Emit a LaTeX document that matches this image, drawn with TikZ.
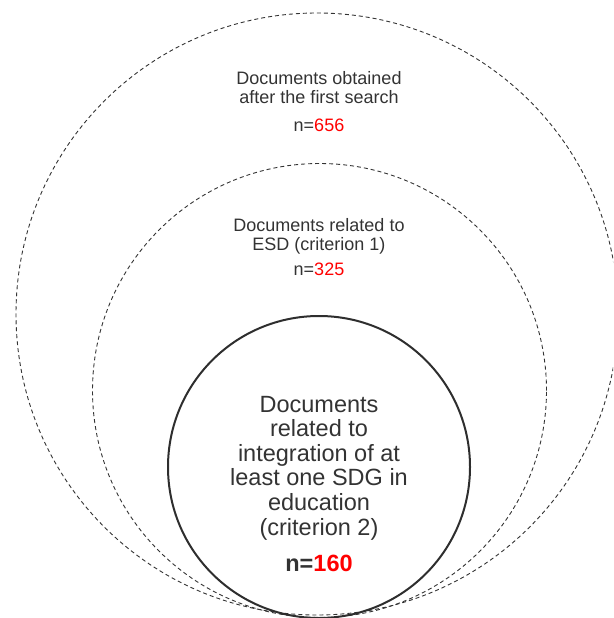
\documentclass[tikz,border=0pt]{standalone}
\usepackage{fontspec}
\setmainfont{Liberation Sans}
\definecolor{ink}{HTML}{333333}
\definecolor{hot}{HTML}{FF0000}
\begin{document}
\begin{tikzpicture}[x=1pt,y=-1pt,
  ring/.style={draw=ink, circle, inner sep=0pt, line width=0.9pt, dash pattern=on 4pt off 3pt},
  core/.style={draw=ink!90!black, circle, inner sep=0pt, line width=2pt},
  small/.style={text=ink, align=center, inner sep=0pt, anchor=base, font=\fontsize{18}{18.8}\selectfont},
  big/.style={text=ink, align=center, inner sep=0pt, anchor=base, font=\fontsize{23.5}{24.6}\selectfont}]
\useasboundingbox (0,0) rectangle (613,618);
\clip (0,0) rectangle (613,618);
\node[ring, minimum size=602pt] (outer) at (317,314) {};
\node[ring, minimum size=454pt] (middle) at (319.5,390.5) {};
\node[core, minimum size=302pt] (inner) at (319,467) {};
\node[small] (t1) at (319,103.5) {Documents obtained\\after the first search};
\node[small] (n1) at (319,131) {n=\textcolor{hot}{656}};
\node[small] (t2) at (319,250.7) {Documents related to\\ESD (criterion 1)};
\node[small] (n2) at (319,275) {n=\textcolor{hot}{325}};
\node[big] (t3) at (319,535) {Documents\\related to\\integration of at\\least one SDG in\\education\\(criterion 2)};
\node[big, font=\fontsize{23.5}{24.6}\selectfont\bfseries] (n3) at (319,571.7) {n=\textcolor{hot}{160}};
\end{tikzpicture}
\end{document}
